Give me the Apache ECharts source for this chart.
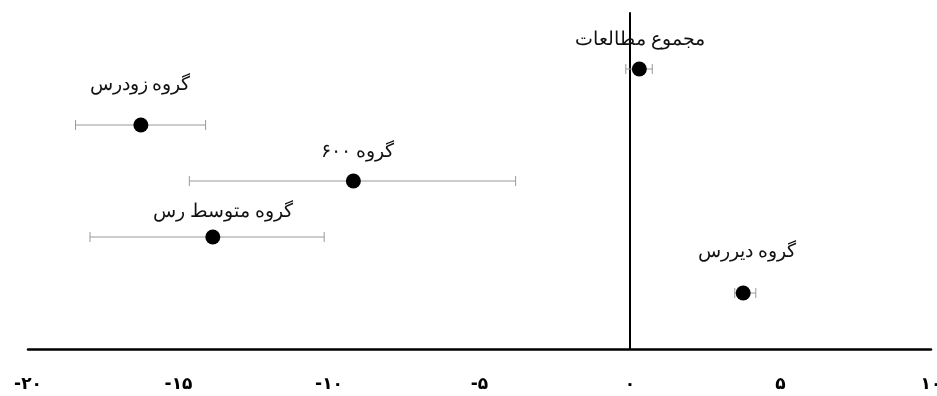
<!DOCTYPE html>
<html>
<head>
<meta charset="utf-8">
<script src="https://cdn.jsdelivr.net/npm/echarts@6/dist/echarts.min.js"></script>
<style>
  html, body { margin: 0; padding: 0; background: #fff; }
  #chart { width: 937px; height: 396px; }
</style>
</head>
<body>
<div id="chart"></div>
<script>
// rows from bottom to top
const groupNames = ['گروه دیررس', 'گروه متوسط رس', 'گروه ۶۰۰', 'گروه زودرس', 'مجموع مطالعات']
const rowIndex = [1, 2, 3, 4, 5]
const effectMean = [3.76, -13.86, -9.19, -16.25, 0.31]
const ciLower = [3.48, -17.94, -14.64, -18.42, -0.14]
const ciUpper = [4.18, -10.16, -3.80, -14.10, 0.74]
const xTicks = [-20, -15, -10, -5, 0, 5, 10]
const xTickLabels = ['-۲۰', '-۱۵', '-۱۰', '-۵', '۰', '۵', '۱۰']

// label shift per row [dx, dy] relative to the dot
const labelShift = [[4, -41], [10, -25], [4, -29], [-1, -40], [1, -29]]

const chart = echarts.init(document.getElementById('chart'))

const errorData = rowIndex.map((r, i) => [ciLower[i], ciUpper[i], r])
const dotData = rowIndex.map((r, i) => ({
  value: [effectMean[i], r],
  name: groupNames[i],
  label: { offset: labelShift[i] }
}))

chart.setOption({
  animation: false,
  grid: { left: 28, right: 6, top: 13, bottom: 47, outerBoundsMode: 'none', containLabel: false },
  xAxis: {
    type: 'value',
    min: -20,
    max: 10,
    interval: 5,
    splitLine: { show: false },
    axisTick: { show: false },
    axisLine: { lineStyle: { color: '#000', width: 2.5 } },
    axisLabel: {
      margin: 27,
      color: '#000',
      fontWeight: 'bold',
      fontSize: 17,
      fontFamily: 'DejaVu Sans',
      formatter: v => xTickLabels[xTicks.indexOf(v)] || ''
    }
  },
  yAxis: {
    type: 'value',
    min: 0,
    max: 6,
    interval: 1,
    splitLine: { show: false },
    axisTick: { show: false },
    axisLabel: { show: false },
    axisLine: { onZero: true, lineStyle: { color: '#000', width: 2 } }
  },
  series: [{
    type: 'custom',
    data: errorData,
    renderItem(params, api) {
      const a = api.coord([api.value(0), api.value(2)])
      const b = api.coord([api.value(1), api.value(2)])
      const style = { stroke: '#999', lineWidth: 1 }
      return {
        type: 'group',
        children: [
          { type: 'line', shape: { x1: a[0], y1: a[1], x2: b[0], y2: b[1] }, style },
          { type: 'line', shape: { x1: a[0], y1: a[1] - 5, x2: a[0], y2: a[1] + 5 }, style },
          { type: 'line', shape: { x1: b[0], y1: b[1] - 5, x2: b[0], y2: b[1] + 5 }, style }
        ]
      }
    },
    z: 2
  }, {
    type: 'scatter',
    data: dotData,
    symbolSize: 15,
    itemStyle: { color: '#000', opacity: 1 },
    label: {
      show: true,
      position: 'inside',
      formatter: p => p.name,
      color: '#111',
      fontSize: 19,
      fontFamily: 'serif'
    },
    z: 3
  }]
})
</script>
</body>
</html>
